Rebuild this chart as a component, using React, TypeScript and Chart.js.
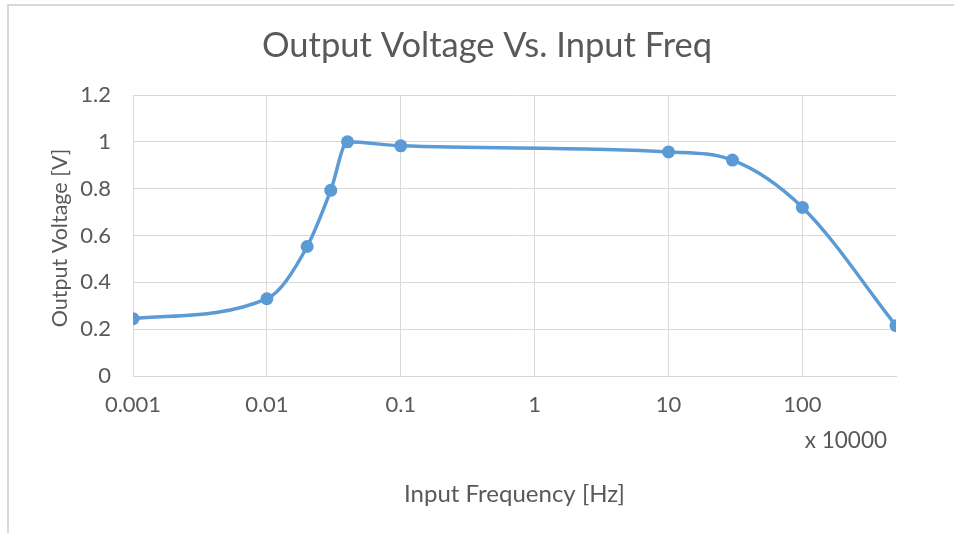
import React, { useEffect, useRef } from "react";
import { Chart, registerables } from "chart.js";

Chart.register(...registerables);

const frequencies = [0.001, 0.01, 0.02, 0.03, 0.04, 0.1, 10, 30, 100, 500];
const voltages = [0.245, 0.33, 0.553, 0.793, 1.0, 0.983, 0.957, 0.922, 0.72, 0.215];
const xTicks = [0.001, 0.01, 0.1, 1, 10, 100];
const xTickLabels = ["0.001", "0.01", "0.1", "1", "10", "100"];
const yTicks = [0, 0.2, 0.4, 0.6, 0.8, 1, 1.2];
const yTickLabels = ["0", "0.2", "0.4", "0.6", "0.8", "1", "1.2"];
const titleText = "Output Voltage Vs. Input Freq";
const xAxisTitle = "Input Frequency [Hz]";
const yAxisTitle = "Output Voltage [V]";
const xUnitLabel = "x 10000";

const TEXT = "#595959";
const GRID = "#d9d9d9";
const LINE = "#5b9bd5";
const FONT = "Lato";

const textPlugin = {
  id: "textPlugin",
  beforeDraw(chart: any) {
    const ctx = chart.ctx;
    ctx.save();
    ctx.fillStyle = "#ffffff";
    ctx.fillRect(0, 0, chart.width, chart.height);
    ctx.strokeStyle = GRID;
    ctx.lineWidth = 2;
    ctx.beginPath();
    ctx.moveTo(8, chart.height);
    ctx.lineTo(8, 5);
    ctx.lineTo(chart.width, 5);
    ctx.stroke();
    ctx.restore();
  },
  afterDraw(chart: any) {
    const ctx = chart.ctx;
    const area = chart.chartArea;
    ctx.save();
    ctx.fillStyle = TEXT;
    ctx.textBaseline = "middle";
    ctx.textAlign = "center";
    ctx.font = `34.5px ${FONT}`;
    ctx.fillText(titleText, 487, 46);
    ctx.font = `24px ${FONT}`;
    ctx.fillText(xAxisTitle, (area.left + area.right) / 2, 494);
    ctx.font = `22.5px ${FONT}`;
    ctx.textAlign = "right";
    ctx.fillText(xUnitLabel, 887, 441);
    ctx.font = `21.5px ${FONT}`;
    ctx.translate(60, 238);
    ctx.rotate(-Math.PI / 2);
    ctx.textAlign = "center";
    ctx.fillText(yAxisTitle, 0, 0);
    ctx.restore();
  },
};

export default function App() {
  const ref = useRef<HTMLCanvasElement>(null);
  useEffect(() => {
    if (!ref.current) return;
    const chart = new Chart(ref.current, {
      type: "line",
      data: {
        datasets: [
          {
            data: frequencies.map((f, i) => ({ x: f, y: voltages[i] })),
            borderColor: LINE,
            backgroundColor: LINE,
            borderWidth: 3.5,
            pointRadius: 6.5,
            pointBorderWidth: 0,
            cubicInterpolationMode: "monotone",
            fill: false,
          },
        ],
      },
      options: {
        animation: false,
        responsive: false,
        layout: { padding: { left: 0, right: 58, top: 95, bottom: 0 } },
        plugins: { legend: { display: false }, tooltip: { enabled: false }, title: { display: false } },
        scales: {
          x: {
            type: "logarithmic",
            min: 0.001,
            max: 500,
            afterBuildTicks: (scale: any) => {
              scale.ticks = xTicks.map((v) => ({ value: v }));
            },
            afterFit: (scale: any) => {
              scale.height = 157;
            },
            ticks: {
              autoSkip: false,
              maxRotation: 0,
              padding: 16,
              color: TEXT,
              font: { family: FONT, size: 22 },
              callback: (v: any) => {
                const i = xTicks.indexOf(Number(v));
                return i >= 0 ? xTickLabels[i] : "";
              },
            },
            grid: { color: GRID, lineWidth: 1, drawTicks: false },
            border: { color: GRID, width: 1 },
          },
          y: {
            type: "linear",
            min: 0,
            max: 1.2,
            afterBuildTicks: (scale: any) => {
              scale.ticks = yTicks.map((v) => ({ value: v }));
            },
            afterFit: (scale: any) => {
              scale.width = 133;
            },
            ticks: {
              padding: 22,
              color: TEXT,
              font: { family: FONT, size: 22 },
              callback: (v: any) => {
                const i = yTicks.findIndex((t) => Math.abs(t - Number(v)) < 1e-9);
                return i >= 0 ? yTickLabels[i] : "";
              },
            },
            grid: { color: GRID, lineWidth: 1, drawTicks: false },
            border: { display: false },
          },
        },
      },
      plugins: [textPlugin],
    });
    return () => chart.destroy();
  }, []);
  return (
    <div style={{ position: "fixed", left: 0, top: 0, width: 954, height: 533, background: "#fff" }}>
      <canvas ref={ref} width={954} height={533} />
    </div>
  );
}
